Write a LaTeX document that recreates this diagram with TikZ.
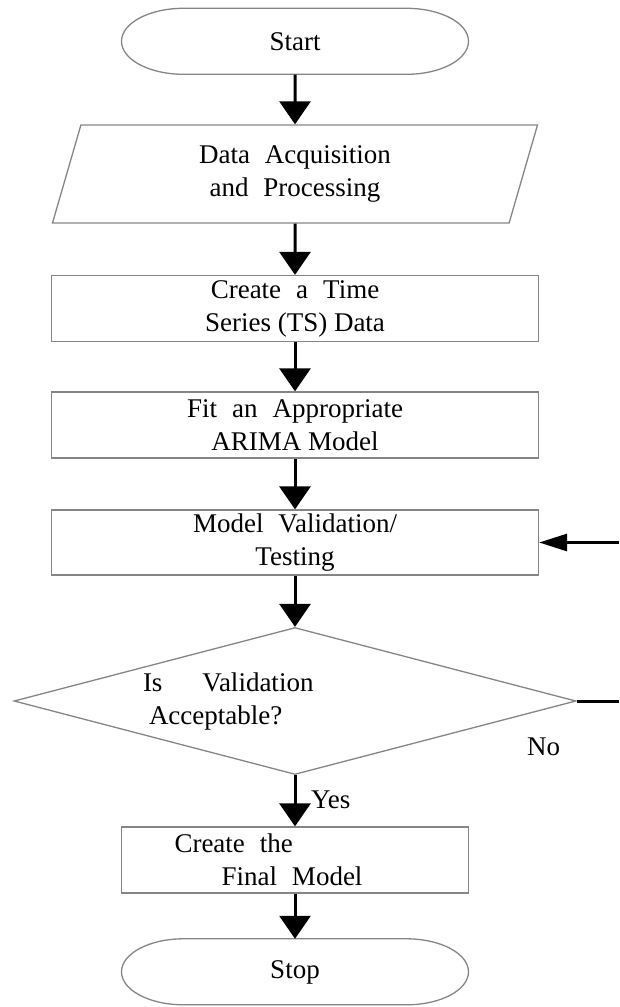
\documentclass[tikz,border=0pt]{standalone}
\usepackage{fontspec}
\setmainfont{Liberation Serif}
\usepackage{tikz}
\usetikzlibrary{arrows.meta,shapes.geometric}
\definecolor{boxgray}{HTML}{858585}
\newcommand{\widesp}{\spaceskip 15pt\relax}
\newcommand{\plainsp}{\spaceskip 0pt\relax}
\tikzset{>={Triangle[width=31pt,length=23pt]}}
\tikzset{
  txt/.style={font={\fontsize{27}{33}\selectfont\widesp},execute at begin node=\widesp,align=center},
  outline/.style={draw=boxgray,line width=1.3pt},
  terminal/.style={txt,minimum width=347pt,minimum height=66pt},
  io/.style={txt,outline,trapezium,trapezium left angle=63.4,trapezium right angle=116.6,
    trapezium stretches body,minimum width=485pt,minimum height=98pt},
  process/.style={txt,outline,rectangle,minimum width=487pt,minimum height=66pt},
  decision/.style={txt,outline,diamond,aspect=3.8,minimum width=562pt,minimum height=147pt},
  flow/.style={->,line width=3pt}
}

\begin{document}
\begin{tikzpicture}[x=1pt,y=-1pt,inner sep=0pt]
\useasboundingbox (0,0) rectangle (619,1007);

\node[terminal] (start) at (295,41.5) {Start};
\node[io] (data) at (295,174) {Data Acquisition\\and Processing};
\node[process] (ts) at (295,308.5) {Create a Time\\{\plainsp Series (TS) Data}};
\node[process] (fit) at (295,425) {Fit an Appropriate\\{\plainsp ARIMA Model}};
\node[process,minimum height=65pt] (test) at (295,542.5) {Model Validation/\\Testing};
\node[decision,text width=304pt,align=left] (valid) at (295,701)
  {Is\hspace{25pt} Validation\\\hspace*{6pt}Acceptable?};
\node[process,minimum width=347pt,text width=347pt,align=left] (final) at (295,860)
  {\hspace*{53pt}Create the\\\hspace*{100pt}Final Model};
\node[terminal] (stop) at (295,972) {Stop};

\foreach \t in {start,stop}
  \draw[outline] (\t.north) -- ++(-111.5,0)
    arc[start angle=270,end angle=90,x radius=62,y radius=33] -- ++(223,0)
    arc[start angle=90,end angle=-90,x radius=62,y radius=33] -- cycle;

\foreach \a/\b in {start/data,data/ts,ts/fit,fit/test,test/valid,valid/final,final/stop}
  \draw[flow] (\a) -- (\b);

\node[txt,anchor=base west] (yes) at (311,808) {Yes};
\node[txt,anchor=base west] (no) at (527,755) {No};

\coordinate (noend) at (619,701);
\coordinate (back) at (619,542.5);
\draw[line width=3pt] (valid) -- (noend);
\draw[-{Triangle[width=17pt,length=28pt]},line width=3pt] (back) -- (test);
\end{tikzpicture}
\end{document}
